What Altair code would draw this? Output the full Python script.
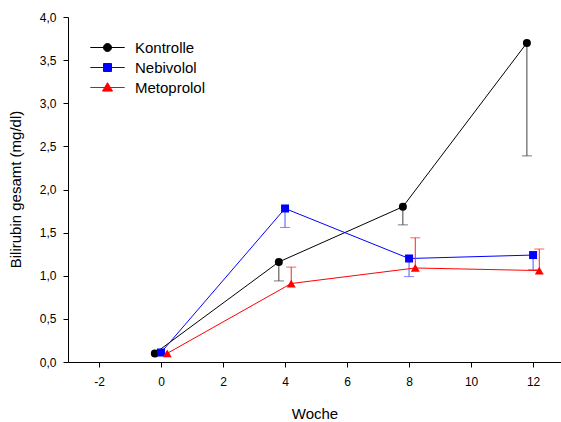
import altair as alt
import pandas as pd

# Measurement weeks and the three treatment groups
weeks = [0, 4, 8, 12]
series_names = ["Kontrolle", "Nebivolol", "Metoprolol"]
# small horizontal dodge so the groups do not hide each other
x_offsets = [-0.2, 0.0, 0.2]

# Mean total bilirubin (mg/dl) per week
kontrolle_mean = [0.10, 1.16, 1.80, 3.70]
nebivolol_mean = [0.11, 1.78, 1.20, 1.24]
metoprolol_mean = [0.10, 0.91, 1.09, 1.06]

# One-sided error bars (Kontrolle and Nebivolol downward, Metoprolol upward)
kontrolle_err = [0.0, 0.22, 0.21, 1.31]
nebivolol_err = [0.0, 0.22, 0.21, 0.17]
metoprolol_err = [0.0, 0.19, 0.35, 0.25]
err_sign = [-1, -1, 1]

line_colors = ["#000000", "#0000ff", "#ff0000"]
bar_colors = ["#404040", "#4a55ff", "#ff2020"]
marker_shapes = ["circle", "square", "triangle-up"]
marker_sizes = [64, 64, 80]

means = [kontrolle_mean, nebivolol_mean, metoprolol_mean]
errs = [kontrolle_err, nebivolol_err, metoprolol_err]

rows = []
for name, off, m, e, s in zip(series_names, x_offsets, means, errs, err_sign):
    for w, mv, ev in zip(weeks, m, e):
        rows.append({"series": name, "week": w, "x": w + off,
                     "mean": mv, "err": ev, "end": mv + s * ev})
df = pd.DataFrame(rows)

FONT = "Arial, Liberation Sans"

x_enc = alt.X(
    "x:Q",
    scale=alt.Scale(domain=[-3, 12.9], nice=False, zero=False),
    axis=alt.Axis(
        title="Woche", values=[-2, 0, 2, 4, 6, 8, 10, 12],
        labelExpr="'' + datum.value",
        grid=False, tickSize=5, labelPadding=9, labelFontSize=12,
        titleFontSize=15, titleFontWeight="normal", titleBaseline="alphabetic",
        titleY=56, domainColor="black", tickColor="black", labelColor="black",
        titleColor="black", labelFont=FONT, titleFont=FONT,
    ),
)
y_axis = alt.Axis(
    title="Bilirubin gesamt (mg/dl)",
    values=[0, 0.5, 1, 1.5, 2, 2.5, 3, 3.5, 4],
    labelExpr="replace(format(datum.value, '.1f'), '.', ',')",
    grid=False, tickSize=5, labelPadding=7, labelFontSize=12,
    titleFontSize=15, titleFontWeight="normal", titleX=-45, titleY=172,
    domainColor="black", tickColor="black", labelColor="black",
    titleColor="black", labelFont=FONT, titleFont=FONT,
)
y_scale = alt.Scale(domain=[0, 4], nice=False, zero=True)
y_mean = alt.Y("mean:Q", scale=y_scale, axis=y_axis)
y_end = alt.Y("end:Q", scale=y_scale, axis=y_axis)

layers = []
for name, lc, bc, shp, sz in zip(series_names, line_colors, bar_colors,
                                 marker_shapes, marker_sizes):
    base = alt.Chart(df).transform_filter(alt.datum.series == name)
    line = base.mark_line(color=lc, strokeWidth=1).encode(x=x_enc, y=y_mean)
    bars = base.transform_filter(alt.datum.err > 0)
    rule = bars.mark_rule(color=bc, strokeWidth=1).encode(
        x=x_enc, y=y_mean, y2="end:Q")
    cap = bars.mark_tick(orient="horizontal", color=bc, size=10,
                         thickness=1).encode(x=x_enc, y=y_end)
    pts = base.mark_point(filled=True, shape=shp, size=sz, color=lc,
                          opacity=1).encode(x=x_enc, y=y_mean)
    layers += [line, rule, cap, pts]

# Legend: each symbol is a short line segment with the group's marker
legend_paths = [
    "M-4.3,0L4.3,0M1,0A1,1,0,1,1,-1,0A1,1,0,1,1,1,0",
    "M-4.3,0L4.3,0M-1,-1L1,-1L1,1L-1,1Z",
    "M-4.3,0L4.3,0M0,-1.2L1.25,0.9L-1.25,0.9Z",
]
leg = alt.Legend(
    title=None, orient="none", legendX=32, legendY=23, padding=0,
    symbolSize=64, symbolStrokeWidth=1, labelOffset=20, rowPadding=4,
    labelFontSize=15, labelFont=FONT, labelColor="black",
)
legend_layer = (
    alt.Chart(df)
    .transform_filter("false")
    .mark_point(filled=True, opacity=1, strokeWidth=1)
    .encode(
        x=x_enc, y=y_mean,
        fill=alt.Fill("series:N", scale=alt.Scale(domain=series_names, range=line_colors), legend=leg),
        stroke=alt.Stroke("series:N", scale=alt.Scale(domain=series_names, range=line_colors), legend=leg),
        shape=alt.Shape("series:N", scale=alt.Scale(domain=series_names, range=legend_paths), legend=leg),
    )
)

chart = (
    alt.layer(*layers, legend_layer)
    .properties(
        width=493, height=345,
        autosize=alt.AutoSizeParams(type="none"),
        padding={"left": 68, "top": 17, "right": 0, "bottom": 60},
        background="white",
    )
    .configure_view(stroke=None)
)

chart.save("out.html", embed_options={"renderer": "svg", "actions": False})
